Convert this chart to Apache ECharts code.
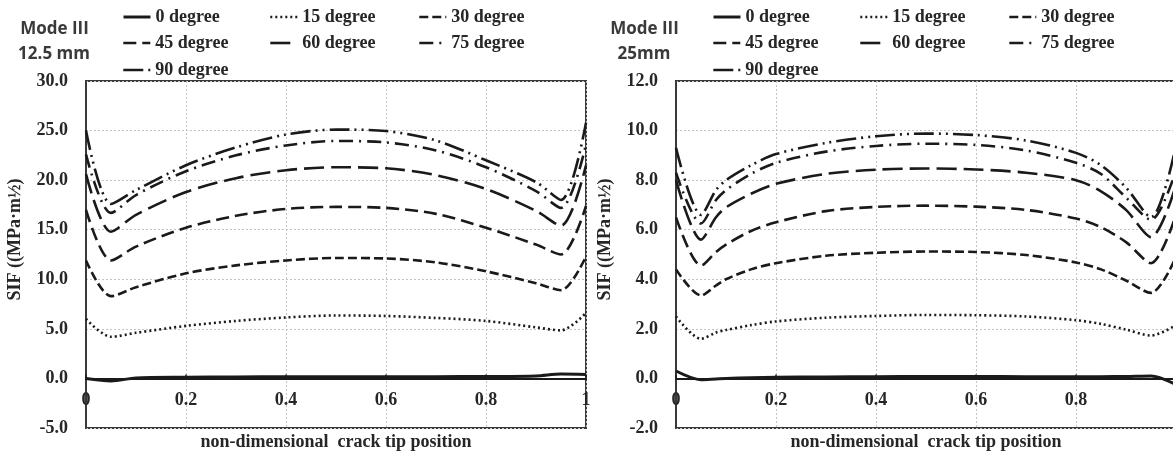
<!DOCTYPE html>
<html>
<head>
<meta charset="utf-8">
<script src="https://cdn.jsdelivr.net/npm/echarts@6/dist/echarts.min.js"></script>
<style>
  html, body { margin: 0; padding: 0; background: #fff; }
  #chart { width: 1173px; height: 452px; }
</style>
</head>
<body>
<div id="chart"></div>
<script>
// Series names (crack inclination)
const degreeNames = ['0 degree', '15 degree', '30 degree', '45 degree', '60 degree', '75 degree', '90 degree'];

// Panel captions
const captionLeft = ['Mode III', '12.5 mm'];
const captionRight = ['Mode III', '25mm'];

// Non-dimensional crack tip positions, 12.5 mm panel
const pos12 = [0, 0.05, 0.1, 0.2, 0.3, 0.4, 0.5, 0.6, 0.7, 0.8, 0.9, 0.95, 1];
// Mode III SIF (MPa·m^1/2), 12.5 mm panel
const sif12_0  = [0, -0.25, 0.05, 0.12, 0.15, 0.17, 0.18, 0.18, 0.18, 0.2, 0.25, 0.45, 0.4];
const sif12_15 = [6.0, 4.2, 4.6, 5.3, 5.8, 6.15, 6.35, 6.3, 6.1, 5.8, 5.15, 4.85, 6.6];
const sif12_30 = [11.9, 8.3, 9.2, 10.6, 11.4, 11.9, 12.15, 12.1, 11.7, 10.8, 9.6, 8.9, 12.3];
const sif12_45 = [17.0, 11.9, 13.3, 15.2, 16.4, 17.1, 17.3, 17.2, 16.6, 15.2, 13.5, 12.5, 17.4];
const sif12_60 = [20.6, 14.8, 16.5, 18.8, 20.2, 21.0, 21.3, 21.2, 20.5, 19.1, 16.9, 15.4, 21.5];
const sif12_75 = [22.6, 16.7, 18.5, 20.9, 22.5, 23.5, 23.95, 23.8, 23.0, 21.3, 18.9, 17.2, 23.6];
const sif12_90 = [25.0, 17.6, 19.0, 21.5, 23.3, 24.6, 25.1, 24.95, 24.0, 22.0, 19.8, 18.0, 25.8];

// Non-dimensional crack tip positions, 25 mm panel
const pos25 = [0, 0.05, 0.08, 0.1, 0.15, 0.2, 0.3, 0.4, 0.5, 0.6, 0.7, 0.8, 0.85, 0.9, 0.95, 1];
// Mode III SIF (MPa·m^1/2), 25 mm panel
const sif25_0  = [0.3, -0.05, -0.02, 0.0, 0.03, 0.05, 0.06, 0.07, 0.08, 0.08, 0.07, 0.07, 0.07, 0.08, 0.1, -0.25];
const sif25_15 = [2.5, 1.6, 1.85, 1.95, 2.15, 2.3, 2.45, 2.52, 2.56, 2.55, 2.5, 2.35, 2.2, 1.97, 1.73, 2.15];
const sif25_30 = [4.4, 3.35, 3.75, 4.0, 4.4, 4.65, 4.95, 5.07, 5.12, 5.1, 4.98, 4.68, 4.4, 3.95, 3.45, 4.9];
const sif25_45 = [6.5, 4.55, 5.1, 5.4, 5.95, 6.3, 6.75, 6.92, 6.97, 6.93, 6.8, 6.45, 6.1, 5.5, 4.65, 6.6];
const sif25_60 = [8.0, 5.6, 6.5, 6.9, 7.45, 7.85, 8.25, 8.42, 8.47, 8.43, 8.3, 8.0, 7.55, 6.8, 5.7, 7.8];
const sif25_75 = [8.3, 6.25, 7.2, 7.6, 8.25, 8.7, 9.15, 9.38, 9.47, 9.42, 9.2, 8.7, 8.25, 7.3, 6.4, 8.4];
const sif25_90 = [9.3, 6.6, 7.6, 8.0, 8.6, 9.05, 9.5, 9.77, 9.88, 9.82, 9.6, 9.1, 8.6, 7.7, 6.5, 9.4];

// Axis ranges and tick steps
const yRange12 = { min: -5, max: 30, interval: 5 };
const yRange25 = { min: -2, max: 12, interval: 2 };
const xRange = { min: 0, max: 1, interval: 0.2 };

const xAxisTitle = 'non-dimensional  crack tip position';
const yAxisTitle = 'SIF ((MPa·m½)';

// ---- styling ----
const INK = '#1a1a1a';
const FRAME = '#3a3a3a';
const SERIF = '"Liberation Serif", "Times New Roman", serif';
const PLOT_TOP = 81;
const PLOT_H = 347;
const dashStyles = [
  'solid',
  [2, 3],
  [9, 4],
  [13, 6],
  [20, 7],
  [14, 6, 2, 6],
  [20, 5, 2, 5, 2, 5]
];

const chart = echarts.init(document.getElementById('chart'), null, { renderer: 'canvas' });

const panels = [
  { pos: pos12, sets: [sif12_0, sif12_15, sif12_30, sif12_45, sif12_60, sif12_75, sif12_90], y: yRange12, dx: 0, caption: captionLeft },
  { pos: pos25, sets: [sif25_0, sif25_15, sif25_30, sif25_45, sif25_60, sif25_75, sif25_90], y: yRange25, dx: 590, caption: captionRight }
];

const grids = [], xAxes = [], yAxes = [], series = [], legends = [], graphics = [];

const legendCols = [122, 269, 418];
const legendRows = [7, 33, 60];

panels.forEach((p, k) => {
  // the x axis sits on the zero line: lift it from the bottom edge by the pixel height of |min|
  const zeroLift = PLOT_H * (0 - p.y.min) / (p.y.max - p.y.min);

  grids.push({
    left: 86 + p.dx, top: PLOT_TOP, width: 500, height: PLOT_H,
    containLabel: false, outerBoundsMode: 'none',
    show: true, borderColor: FRAME, borderWidth: 2, backgroundColor: 'transparent'
  });
  xAxes.push({
    gridIndex: k, type: 'value', position: 'bottom', offset: -zeroLift,
    min: xRange.min, max: xRange.max, interval: xRange.interval,
    axisLine: { onZero: false, lineStyle: { color: INK, width: 2 } },
    axisTick: { show: true, inside: true, length: 4, lineStyle: { color: INK, width: 1.5 } },
    axisLabel: {
      margin: 13, color: '#262626', fontFamily: SERIF, fontWeight: 'bold', fontSize: 18,
      formatter: v => (v === 0 ? '0' : v === 1 ? '1' : v.toFixed(1))
    },
    splitLine: { show: true, lineStyle: { color: '#c4c4c4', type: [2, 2], width: 1 } },
    name: xAxisTitle, nameLocation: 'middle', nameGap: 55,
    nameTextStyle: { color: '#262626', fontFamily: SERIF, fontWeight: 'bold', fontSize: 18 }
  });
  yAxes.push({
    gridIndex: k, type: 'value',
    min: p.y.min, max: p.y.max, interval: p.y.interval,
    axisLine: { show: true, onZero: false, lineStyle: { color: FRAME, width: 2 } },
    axisTick: { show: false },
    axisLabel: {
      margin: 18, color: '#262626', fontFamily: SERIF, fontWeight: 'bold', fontSize: 18,
      formatter: v => v.toFixed(1)
    },
    splitLine: { show: true, lineStyle: { color: '#c4c4c4', type: [2, 2], width: 1 } },
    name: yAxisTitle, nameLocation: 'middle', nameGap: 62,
    nameTextStyle: { color: '#262626', fontFamily: SERIF, fontWeight: 'bold', fontSize: 18, padding: [0, 0, 0, 30] }
  });

  p.sets.forEach((vals, i) => {
    series.push({
      name: degreeNames[i], type: 'line', xAxisIndex: k, yAxisIndex: k,
      data: p.pos.map((t, j) => [t, vals[j]]),
      smooth: 0.3, symbol: 'none', showSymbol: false, silent: true,
      z: i === 0 ? 4 : 3,
      lineStyle: { color: INK, width: i === 0 ? 3 : 2.6, type: dashStyles[i], cap: 'butt' },
      itemStyle: { color: INK }
    });
  });

  degreeNames.forEach((nm, i) => {
    legends.push({
      data: [nm], left: legendCols[i % 3] + p.dx, top: legendRows[Math.floor(i / 3)],
      orient: 'horizontal', itemWidth: 27, itemHeight: 14, padding: 0,
      selectedMode: false,
      itemStyle: { opacity: 0, color: 'transparent', borderWidth: 0 },
      lineStyle: { type: dashStyles[i], width: i === 0 ? 3 : 2.6, color: INK, cap: 'butt' },
      textStyle: { color: '#262626', fontFamily: SERIF, fontWeight: 'bold', fontSize: 18, lineHeight: 20 }
    });
  });

  graphics.push({
    type: 'text', x: 54.5 + p.dx, y: 29,
    style: { text: p.caption[0], textAlign: 'center', textVerticalAlign: 'middle',
      font: 'bold 17px "Open Sans", sans-serif', fill: '#3a3a3a' }
  });
  graphics.push({
    type: 'text', x: 54 + p.dx, y: 54,
    style: { text: p.caption[1], textAlign: 'center', textVerticalAlign: 'middle',
      font: 'bold 17px "Open Sans", sans-serif', fill: '#3a3a3a' }
  });
});

chart.setOption({
  animation: false,
  backgroundColor: '#ffffff',
  grid: grids,
  xAxis: xAxes,
  yAxis: yAxes,
  legend: legends,
  series: series,
  graphic: graphics
});
</script>
</body>
</html>
